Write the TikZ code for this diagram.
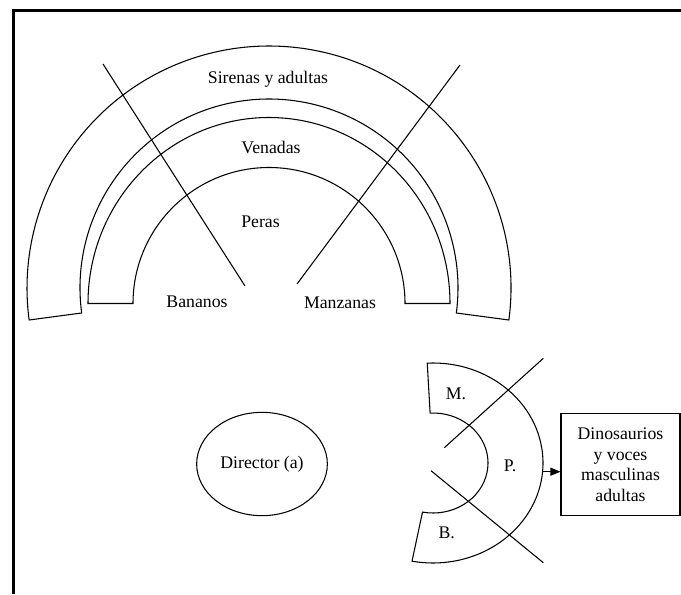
\documentclass[tikz,border=0pt]{standalone}
\usepackage{fontspec}
\setmainfont{Liberation Serif}
\usepackage{tikz}
\usetikzlibrary{positioning,shapes.geometric,arrows.meta}

\begin{document}
\begin{tikzpicture}[x=0.75pt,y=0.75pt,line width=0.8pt,
    font=\fontsize{13.3}{15.5}\selectfont]
  \useasboundingbox (0,0) rectangle (681,594);
  \draw[line width=1.9pt] (13.7,0) -- (13.7,583.5) -- (681,583.5);
  % upper bands
  \draw[shift={(269,306)}] (-7.6:242) arc[start angle=-7.6,end angle=187.6,radius=242]
    -- (187.6:189) arc[start angle=187.6,end angle=-7.6,radius=189] -- cycle;
  \draw[shift={(269,290.5)}] (0:181 and 186) arc[start angle=0,end angle=180,x radius=181,y radius=186]
    -- (180:136) arc[start angle=180,end angle=0,radius=136] -- cycle;
  \draw (103,530) -- (245,308);
  \draw (460,529) -- (297,310);
  \node (1) at (268,515) {Sirenas y adultas};
  \node (2) at (271,447) {Venadas};
  \node (3) at (260.5,372) {Peras};
  \node (4) at (197,292) {Bananos};
  \node (5) at (340,291) {Manzanas};
  % director
  \node (6) [draw,ellipse,inner sep=0pt,minimum width=98pt,minimum height=77.5pt] at (262,130) {Director (a)};
  % lower band
  \draw[shift={(433,131)}] (93:110 and 100) arc[start angle=93,end angle=-101,x radius=110,y radius=100]
    -- (-101:55 and 50) arc[start angle=-101,end angle=93,x radius=55,y radius=50] -- cycle;
  \draw (444.3,146.3) -- (543.3,235.7);
  \draw (431,123.3) -- (543.3,31.3);
  \node (7) at (456,200) {M.};
  \node (8) at (510,128) {P.};
  \node (9) at (446.7,60.7) {B.};
  \coordinate (p) at (543.3,122.3);
  \node (10) [draw,align=center,inner sep=0pt,minimum width=89.25pt,minimum height=76.3pt] at (620.5,129.2)
    {Dinosaurios\\y voces\\masculinas\\adultas};
  \draw[-{Triangle[length=7.5pt,width=6pt]}] (p) -- (p -| 10.west);
\end{tikzpicture}
\end{document}
